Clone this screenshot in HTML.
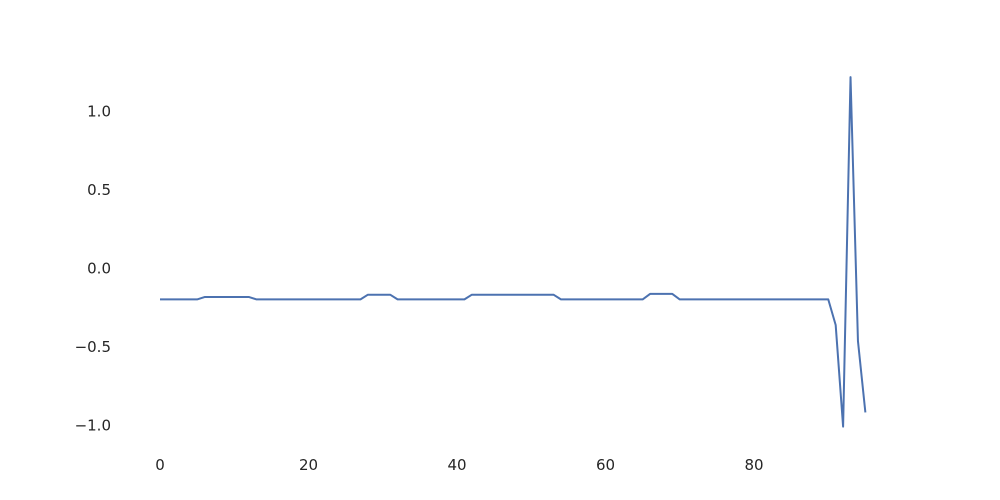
<!DOCTYPE html>
<html><head><meta charset="utf-8"><style>
html,body{margin:0;padding:0;background:#fff;width:1000px;height:500px;overflow:hidden}
svg{display:block}
svg text{font-family:"DejaVu Sans","Liberation Sans",sans-serif;font-size:15px;fill:#262626}
</style></head><body>
<svg id="chart" width="1000" height="500" xmlns="http://www.w3.org/2000/svg"></svg>
<script>
const xTicks=[0,20,40,60,80];
const yTicks=[1.0,0.5,0.0,-0.5,-1.0];
const yTickLabels=["1.0","0.5","0.0","\u22120.5","\u22121.0"];
const seriesValues=[-0.2,-0.2,-0.2,-0.2,-0.2,-0.2,-0.185,-0.185,-0.185,-0.185,-0.185,-0.185,-0.185,
-0.2,-0.2,-0.2,-0.2,-0.2,-0.2,-0.2,-0.2,-0.2,-0.2,-0.2,-0.2,-0.2,-0.2,-0.2,
-0.17,-0.17,-0.17,-0.17,
-0.2,-0.2,-0.2,-0.2,-0.2,-0.2,-0.2,-0.2,-0.2,-0.2,
-0.17,-0.17,-0.17,-0.17,-0.17,-0.17,-0.17,-0.17,-0.17,-0.17,-0.17,-0.17,
-0.2,-0.2,-0.2,-0.2,-0.2,-0.2,-0.2,-0.2,-0.2,-0.2,-0.2,-0.2,
-0.165,-0.165,-0.165,-0.165,
-0.2,-0.2,-0.2,-0.2,-0.2,-0.2,-0.2,-0.2,-0.2,-0.2,-0.2,-0.2,-0.2,-0.2,-0.2,-0.2,-0.2,-0.2,-0.2,-0.2,-0.2,
-0.363,-1.01,1.216,-0.465,-0.92];
const svg=document.getElementById('chart');
const NS='http://www.w3.org/2000/svg';
const xs=v=>160+v*7.425;
const ys=v=>268-v*157;
xTicks.forEach(t=>{
  const el=document.createElementNS(NS,'text');
  
  
  el.setAttribute('x',xs(t));el.setAttribute('y',470);el.setAttribute('text-anchor','middle');
  el.textContent=t;svg.appendChild(el);
});
yTicks.forEach((t,i)=>{
  const el=document.createElementNS(NS,'text');
  
  
  el.setAttribute('x',111);el.setAttribute('y',ys(t)+5.5);el.setAttribute('text-anchor','end');
  el.textContent=yTickLabels[i];svg.appendChild(el);
});
const p=document.createElementNS(NS,'polyline');


p.setAttribute('points',seriesValues.map((v,i)=>xs(i)+','+ys(v)).join(' '));
p.setAttribute('fill','none');p.setAttribute('stroke','#4c72b0');p.setAttribute('stroke-width','2');
p.setAttribute('stroke-linejoin','round');
svg.appendChild(p);
</script>
</body></html>
